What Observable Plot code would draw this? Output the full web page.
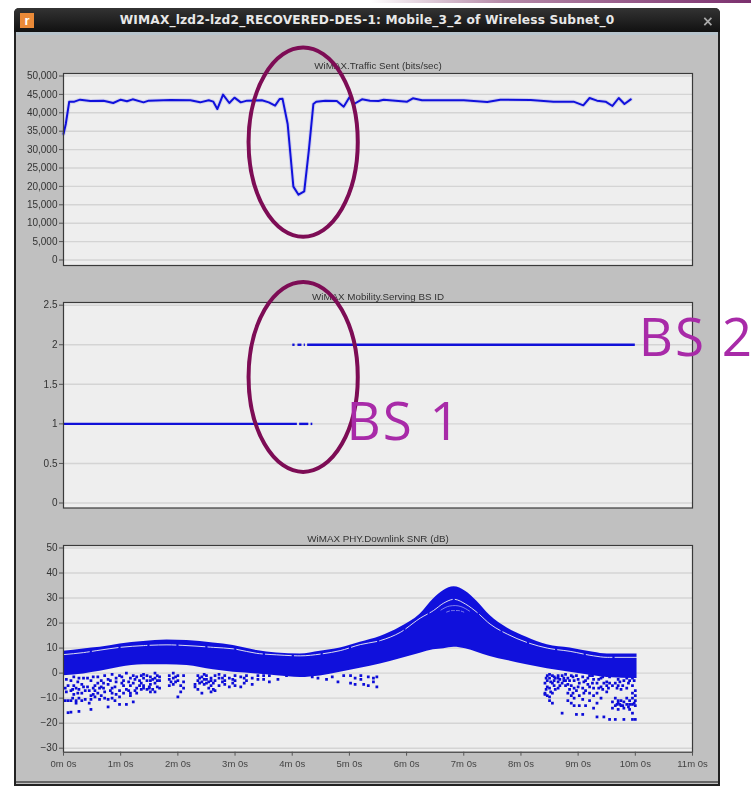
<!DOCTYPE html>
<html><head><meta charset="utf-8">
<script src="https://cdn.jsdelivr.net/npm/d3@7"></script>
<script src="https://cdn.jsdelivr.net/npm/@observablehq/plot@0.6"></script>
<style>
html,body{margin:0;padding:0;background:#fff;width:751px;height:788px;overflow:hidden;font-family:"Liberation Sans",sans-serif}
#strip{position:absolute;left:370px;top:0;width:381px;height:3px;background:linear-gradient(90deg,#fff 0%,#b58aa8 35%,#7b2f6e 100%)}
#win{position:absolute;left:14px;top:8px;width:706px;height:778px;box-sizing:border-box;background:#c0c0c0;border:2px solid #222;border-top:none;border-radius:5px 5px 0 0;filter:blur(.45px)}
#bar{position:absolute;left:-2px;right:-2px;top:0;height:24px;background:linear-gradient(#333,#111);border-radius:5px 5px 0 0;color:#e8e8e8;font:bold 12.2px "DejaVu Sans",sans-serif;text-align:center;line-height:25px;letter-spacing:.16px}
#ico{position:absolute;left:6px;top:5px;width:14px;height:15px;background:#ea8a38;color:#fff;font:bold 13px "Liberation Sans";line-height:15px;text-align:center}
#x{position:absolute;right:6px;top:1px;color:#aaa;font:bold 14px "DejaVu Sans";line-height:25px}
#inner{position:absolute;left:0;right:0;top:24px;height:3px;background:#b8c4cc}
#bot{position:absolute;left:0;right:0;bottom:1px;height:2px;background:#666}
#panels{position:absolute;left:0;top:0;width:751px;height:788px;filter:blur(.6px)}
#over{position:absolute;left:0;top:0;width:751px;height:788px}
svg{position:absolute;left:0}
</style></head><body>
<div id="strip"></div>
<div id="win"><div id="bar"><div id="ico">r</div>WIMAX_lzd2-lzd2_RECOVERED-DES-1: Mobile_3_2 of Wireless Subnet_0<div id="x">×</div></div><div id="inner"></div><div id="bot"></div></div>
<div id="panels"></div><div id="over"></div>
<script>
// ---- shared axis
const xTicks = [0,1,2,3,4,5,6,7,8,9,10,11];
const xTickLabels = ["0m 0s","1m 0s","2m 0s","3m 0s","4m 0s","5m 0s","6m 0s","7m 0s","8m 0s","9m 0s","10m 0s","11m 0s"];

// ---- panel titles
const titleTraffic = "WiMAX.Traffic Sent (bits/sec)";
const titleBS = "WiMAX Mobility.Serving BS ID";
const titleSNR = "WiMAX PHY.Downlink SNR (dB)";

// ---- traffic
const trafficTicks = [0,5000,10000,15000,20000,25000,30000,35000,40000,45000,50000];
const trafficX = [0,.04,.10,.19,.29,.47,.70,.87,1.00,1.11,1.21,1.40,1.49,1.87,2.22,2.39,2.54,2.62,2.69,2.79,2.90,2.99,3.10,3.21,3.47,3.59,3.70,3.78,3.83,3.92,4.02,4.11,4.21,4.29,4.37,4.42,4.58,4.78,4.90,5.00,5.08,5.22,5.36,5.51,5.60,6.01,6.11,6.27,6.53,7.00,7.41,7.64,8.17,8.57,8.92,9.09,9.20,9.33,9.48,9.60,9.71,9.81,9.92];
const trafficY = [34240,36960,43030,43030,43570,43210,43300,42660,43570,43120,43660,42840,43300,43480,43390,42840,43390,43030,41030,44930,42660,44110,42840,43300,43390,42840,41940,43750,43840,36960,19930,17750,18660,29710,42390,43030,43300,43210,41670,44200,42390,43660,43300,43210,43570,43030,43930,43390,43390,43390,42930,43570,43480,43030,43030,42030,44020,43300,43030,41850,44020,42390,43660];

// ---- serving BS runs [id, start, end]
const bsTicks = [0,.5,1,1.5,2,2.5];
const bsRunId    = [1,1,1,2,2,2,2];
const bsRunStart = [0,4.13,4.33,4.01,4.10,4.21,4.27];
const bsRunEnd   = [4.09,4.29,4.36,4.05,4.17,4.23,10];

// ---- SNR band
const snrTicks = [-30,-20,-10,0,10,20,30,40,50];
const bandX   = [0,.35,.64,.99,1.4,1.81,2.16,2.62,2.97,3.38,3.73,4.14,4.49,4.84,5.19,5.54,5.89,6.24,6.47,6.65,6.83,7.03,7.23,7.46,7.76,8.1,8.46,8.86,9.27,9.51,10.03];
const bandTop = [8.7,9.65,10.3,11.6,12.6,13.2,13,12,11,9,8,7.6,8.7,10,12.3,14.6,18.3,23.6,29.6,33,34.5,32.7,28.7,23,18,14.3,11.3,10,8.3,7.6,7.6];
const bandGap = [7.4,8.2,9.2,10.3,11,11.3,11,10.3,9.7,7.9,7.3,6.9,7.6,9,11.4,13,16.3,22,25,28,29.5,27.6,24.3,19.6,15.6,12.3,10,8.7,6.9,6.3,6.3];
const bandLow = [-1,-.3,.7,2.3,3.3,3.3,3,1.3,.3,-.3,-1,-1.7,-1.1,.3,1.9,3.6,5.7,7.9,9.3,9.7,10.3,9.7,8.3,6.6,5,3.3,1.7,.3,-1,-1.7,-2.1];
// faint inner arcs near the peak
const arcAX = [6.6,6.75,6.85,6.95,7.1];
const arcAY = [25.2,26.8,27,26.6,24.8];
const arcBX = [6.7,6.8,6.9,7.0];
const arcBY = [24.4,25,25,24.4];

// ---- SNR scattered samples: [minute, dB, dB, ...]
const cloudLeft = [[.03,-6,-11],[.08,-5,-11,-15.8],[.13,-3,-7,-11,-15.6],[.18,-1.5,-5,-8.5],[.22,-6,-11,-12],[.27,-2,-6.5,-10,-15.3],[.32,-4.5,-8,-11],[.38,-7,-10.5],[.42,-2,-5.5],[.48,-3,-9,-10.5,-14.5],[.55,-5,-7,-9.5],[.6,-1.5,-4,-8],[.66,-3,-5.5,-9],[.72,-1,-7.5,-10],[.78,-2.5,-4.5,-10.5,-13.5],[.85,-.5,-6,-8,-10],[.92,-2,-3.5,-8.5],[.98,-1,-7,-9.5,-12.5],[1.05,-3,-5,-8],[1.1,0,-6.5,-12.5],[1.17,-2,-5,-8,-9],[1.22,-1,-4,-11.5],[1.28,-1.5,-6,-8],[1.33,-3,-5],[1.4,-.5,-2,-5,-6],[1.46,-1,-3,-6.5],[1.52,-1.5,-3,-4.5,-7.5],[1.6,0,-2,-4,-7.5],[1.68,-1.5,-3,-6],[1.85,-1,-2.5,-5],[1.92,0,-2,-4.5],[2,-1,-3,-9.5],[2.05,-5,-7.5],[2.1,-1,-3.5,-6],[2.3,-4.5,-5.5],[2.35,-1,-3,-6.5],[2.42,-1.5,-3.5,-8],[2.5,-1,-2.5,-4],[2.58,-2,-3,-5,-7.5],[2.65,-1,-3,-7],[2.72,-.5,-2,-5],[2.82,-1,-3,-4.5],[2.9,-2,-5.5],[3,-1,-3,-5],[3.1,-1.5,-5.5],[3.2,-1,-3],[3.3,-2,-4.5],[3.4,-1,-2.5],[3.5,-1,-2.5],[3.6,-1,-3.5],[3.75,-2.5],[3.9,-1],[4.2,-1],[4.35,-1.5],[4.45,-2],[4.6,-2.5],[4.7,-1.5],[4.8,-3.5],[4.9,-1],[5.02,-1,-4],[5.1,-2,-4.5],[5.2,-1,-2.5],[5.25,-4.5],[5.33,-1.5,-5],[5.42,-2,-3.5],[5.48,-1.5,-5.5],
 [.05,-2.5,-7.5],[.16,-6.5,-10],[.25,-3.5,-8],[.35,-2,-5.5],[.45,-7,-12],[.52,-1.5,-6,-8.5],[.63,-6,-10.5],[.7,-4,-6],[.82,-3,-7],[.9,-5.5,-11],[1.02,-1.5,-4],[1.14,-3.5,-7],[1.25,-2.5,-7],[1.36,-1,-4,-6.5],[1.5,-5.5,-6],[1.56,-2.5,-6.5],[1.64,-1,-3,-5.5],[1.88,-3.5],[1.96,-1.5,-3.5],[2.38,-2,-4],[2.46,-.5,-2.5,-4.5],[2.54,-3.5,-6],[2.62,-4,-6.5],[2.78,-2,-3.5],[2.96,-2.5,-4],[3.16,-2,-4]];
const cloudRight = [[8.42,-4,-8,-8.5],[8.46,-1,-3,-5.5,-9],[8.5,-.5,-2,-6,-9.5,-11],[8.55,-1,-4,-8,-12],[8.6,-2,-6.5],[8.65,-1,-2,-3.5,-6],[8.72,-1,-4,-16],[8.78,-.5,-3,-5],[8.82,-2,-4.5,-8,-11],[8.88,-1,-5,-9,-12],[8.93,-3,-6,-10,-13],[8.97,-1,-7,-16.5],[9.02,-4,-9,-13],[9.08,-1.5,-6,-10.5,-16.5],[9.13,-3,-7,-13],[9.2,-1,-5.5,-8,-11],[9.27,-2.5,-6,-9,-14],[9.33,-4,-8,-12,-17.5],[9.4,-2,-5.5,-10],[9.45,-4,-17.5],[9.5,-3.5,-5,-7.5],[9.55,-1.5,-4,-18.5],[9.6,-5,-11.5,-14],[9.65,-4,-10,-13,-18.5],[9.7,-2.5,-5,-11,-12,-14.5],[9.75,-6.5,-11,-13],[9.8,-3,-11.5,-14,-18.5],[9.85,-2,-6,-10,-12.5],[9.9,-1,-3,-11,-12.5,-14.5],[9.95,-2,-5,-8,-10,-12.5,-16,-18.5],[10,-7,-9,-11,-13,-18.5],
 [8.44,-2,-6.5],[8.52,-3.5,-7.5],[8.58,-1.5,-3,-5],[8.68,-2.5,-5],[8.75,-2,-3],[8.85,-3,-6.5],[8.91,-1.5,-8],[9,-2.5,-5.5],[9.1,-3.5,-8],[9.17,-2,-4.5],[9.25,-1,-4],[9.36,-2.5,-6],[9.43,-1.5,-6.5],[9.53,-6],[9.68,-6,-12.5],[9.73,-3.5,-12.5],[9.78,-5,-13],[9.88,-4,-13.5],[9.98,-3,-12]];

// ---- annotations
const ringTraffic = [{x:4.2,y:31900,rx:.955,ry:25700}];
const ringBS = [{x:4.2,y:1.587,rx:.955,ry:1.2}];
const bsLabels = [{x:4.95,y:1.01,t:"BS 1"},{x:10.06,y:2.07,t:"BS 2"}];

const BLUE = "#1010dc", MAROON = "#7d0c55", MAGENTA = "#a82aa8";
const traffic = trafficX.map((x,i)=>({x,y:trafficY[i]}));
const runs = bsRunId.map((id,i)=>({id,a:bsRunStart[i],b:bsRunEnd[i]}));
const band = bandX.map((x,i)=>({x,top:bandTop[i],gap:bandGap[i],low:bandLow[i]}));
const arcA = arcAX.map((x,i)=>({x,y:arcAY[i]}));
const arcB = arcBX.map((x,i)=>({x,y:arcBY[i]}));
const cloud = [...cloudLeft,...cloudRight].flatMap(([x,...ys])=>ys.map(y=>({x,y})));

function geom(g){
  return {width:751,height:g.height,marginLeft:63,marginRight:59,marginTop:g.mt,marginBottom:g.mb,
    insetTop:g.it,insetBottom:g.ib,
    x:{domain:[0,11],axis:null},y:{domain:g.domain,axis:null},
    style:{background:"transparent",overflow:"visible",fontFamily:"Liberation Sans"}};
}
function place(svg,top,parent){svg.style.top=top+"px";svg.style.position="absolute";svg.style.maxWidth="none";document.getElementById(parent).appendChild(svg);}
function panel(g,title,yTicks,fmt,marks,withX){
  const o = geom(g);
  place(Plot.plot({...o,marks:[
    Plot.frame({fill:"#eeeeee"}),
    Plot.gridY(yTicks,{stroke:"#d4d4d4",strokeOpacity:1,strokeWidth:1.4}),
    ...marks,
    Plot.frame({stroke:"#3a3a3a",strokeWidth:1.2}),
    Plot.axisY(yTicks,{tickSize:4,tickPadding:2,tickFormat:fmt,fontSize:10,color:"#333",label:null,stroke:"#555"}),
    ...(withX?[Plot.axisX(xTicks,{tickSize:4,tickPadding:4,tickFormat:(d,i)=>xTickLabels[i],fontSize:9.5,color:"#444",label:null,stroke:"#555"})]:[]),
    Plot.text([title],{frameAnchor:"top",dy:g.tdy,fontSize:9.8,fill:"#333",lineAnchor:"middle"})
  ]}),g.top,"panels");
}
function ellipseMark(data){
  return Plot.dot(data,{x:"x",y:"y",r:1,render:(index,scales)=>{
    const g=d3.create("svg:g");
    for(const d of data){
      g.append("ellipse").attr("cx",scales.x(d.x)).attr("cy",scales.y(d.y))
       .attr("rx",Math.abs(scales.x(d.x+d.rx)-scales.x(d.x)))
       .attr("ry",Math.abs(scales.y(d.y+d.ry)-scales.y(d.y)))
       .attr("fill","none").attr("stroke",MAROON).attr("stroke-width",4);
    }
    return g.node();
  }});
}

const g1={top:40,height:235,mt:33,mb:10,it:2.5,ib:5.5,domain:[0,50000],tdy:-8};
const g2={top:275,height:240,mt:27,mb:7.5,it:2.7,ib:5,domain:[0,2.5],tdy:-6};
const g3={top:515,height:270,mt:30,mb:33.3,it:2.5,ib:4,domain:[-30,50],tdy:-7};

panel(g1,titleTraffic,trafficTicks,d3.format(","),[
  Plot.line(traffic,{x:"x",y:"y",stroke:BLUE,strokeWidth:4,strokeOpacity:.12}),
  Plot.line(traffic,{x:"x",y:"y",stroke:BLUE,strokeWidth:2})
]);
panel(g2,titleBS,bsTicks,d=>String(d),[
  Plot.ruleY(runs,{y:"id",x1:"a",x2:"b",stroke:"#1010d8",strokeWidth:2.4})
]);
panel(g3,titleSNR,snrTicks,d3.format("~g"),[
  Plot.dot(cloud,{x:"x",y:"y",symbol:"square",r:1.55,fill:"#0c0cd8"}),
  Plot.areaY(band,{x:"x",y1:"low",y2:"top",fill:BLUE,curve:"monotone-x"}),
  Plot.line(band,{x:"x",y:"gap",stroke:"#f2f2f2",strokeWidth:.9,strokeDasharray:"26 3",curve:"monotone-x"}),
  Plot.line(arcA,{x:"x",y:"y",stroke:"#9a9af0",strokeWidth:.8,curve:"monotone-x"}),
  Plot.line(arcB,{x:"x",y:"y",stroke:"#9a9af0",strokeWidth:.8,strokeDasharray:"3 2",curve:"monotone-x"})
],true);

place(Plot.plot({...geom(g1),marks:[ellipseMark(ringTraffic)]}),g1.top,"over");
const o2=geom(g2);
place(Plot.plot({...o2,style:{...o2.style,letterSpacing:"2px"},marks:[
  ellipseMark(ringBS),
  Plot.text(bsLabels,{x:"x",y:"y",text:"t",textAnchor:"start",fontSize:53,fill:MAGENTA,fontFamily:"Open Sans",fontWeight:400,clip:false})
]}),g2.top,"over");
</script>
</body></html>
